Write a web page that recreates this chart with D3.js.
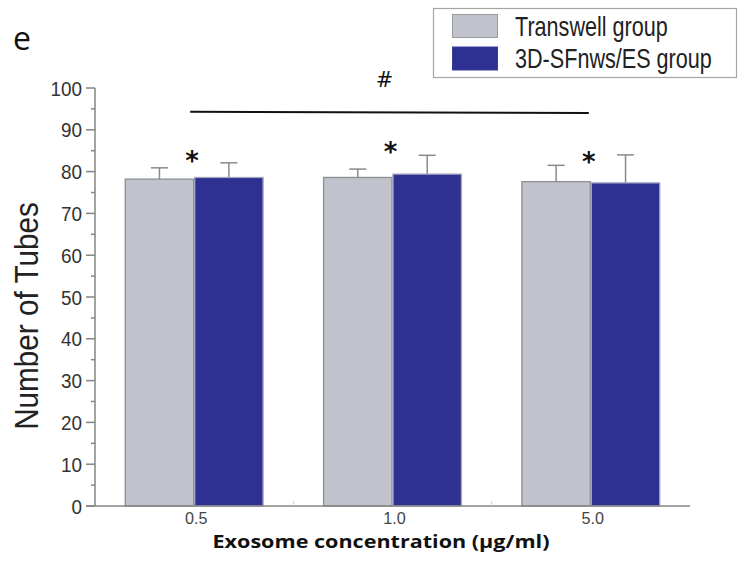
<!DOCTYPE html>
<html>
<head>
<meta charset="utf-8">
<script src="https://cdn.jsdelivr.net/npm/d3@7"></script>
<style>
  html, body { margin: 0; padding: 0; background: #fff; }
</style>
</head>
<body>
<div id="chartArea"></div>
<script>
// data
const concentrations = ['0.5', '1.0', '5.0']
const seriesNames = ['Transwell group', '3D-SFnws/ES group']
const transwellMeans = [78.2, 78.6, 77.6]
const transwellSD = [2.7, 2.0, 3.9]
const sfnwsMeans = [78.6, 79.4, 77.3]
const sfnwsSD = [3.5, 4.5, 6.7]
const starLevels = [84.7, 86.8, 84.4]   // height of the * marks
const bracketLevel = 94.3               // the # bracket
const yTicks = [0, 10, 20, 30, 40, 50, 60, 70, 80, 90, 100]
const yMinorTicks = [5, 15, 25, 35, 45, 55, 65, 75, 85, 95]

const colors = ['#c1c3cc', '#2e3192']
const strokes = ['#8e8e92', '#a3a6bf']
const axisColor = '#858585'

const width = 742
const height = 564
const margin = { left: 95, right: 52, top: 88, bottom: 58 }

const svg = d3.select('#chartArea')
  .append('svg')
  .attr('width', width)
  .attr('height', height)

const xGroup = d3.scaleBand()
  .domain(concentrations)
  .range([margin.left, width - margin.right])
  .paddingInner(0.3)
  .paddingOuter(0.15)

const xSeries = d3.scaleBand()
  .domain(seriesNames)
  .range([0, xGroup.bandwidth()])

const yScale = d3.scaleLinear()
  .domain([0, 100])
  .range([height - margin.bottom, margin.top])

const rows = concentrations.map((c, i) => ({
  c,
  values: [
    { s: seriesNames[0], k: 0, v: transwellMeans[i], e: transwellSD[i] },
    { s: seriesNames[1], k: 1, v: sfnwsMeans[i], e: sfnwsSD[i] }
  ]
}))

// helper for the condensed Arial-like text
const narrowText = (parent, x, y, txt, size, anchor, sx, fill) => {
  const g = parent.append('g').attr('transform', `translate(${x},${y}) scale(${sx},1)`)
  g.append('text')
    .attr('text-anchor', anchor)
    .attr('font-family', 'Liberation Sans, Arial, sans-serif')
    .attr('font-size', size)
    .attr('fill', fill)
    .text(txt)
  return g
}

// panel letter
svg.append('text')
  .attr('x', 13)
  .attr('y', 50)
  .attr('font-family', 'Open Sans, sans-serif')
  .attr('font-size', 32)
  .attr('fill', '#111')
  .text('e')

// bars
const groups = svg.selectAll('g.grp')
  .data(rows)
  .join('g')
  .attr('class', 'grp')
  .attr('transform', d => `translate(${xGroup(d.c)},0)`)

// error bars (upper only)
groups.selectAll('g.err')
  .data(d => d.values)
  .join(enter => {
    const g = enter.append('g').attr('class', 'err')
    g.append('line')
      .attr('x1', d => xSeries(d.s) + xSeries.bandwidth() / 2)
      .attr('x2', d => xSeries(d.s) + xSeries.bandwidth() / 2)
      .attr('y1', d => yScale(d.v))
      .attr('y2', d => yScale(d.v + d.e))
    g.append('line')
      .attr('x1', d => xSeries(d.s) + xSeries.bandwidth() / 2 - 8.5)
      .attr('x2', d => xSeries(d.s) + xSeries.bandwidth() / 2 + 8.5)
      .attr('y1', d => yScale(d.v + d.e))
      .attr('y2', d => yScale(d.v + d.e))
    return g
  })
  .attr('stroke', '#8a8a8a')
  .attr('stroke-width', 1.5)

groups.selectAll('rect')
  .data(d => d.values)
  .join('rect')
  .attr('x', d => xSeries(d.s) + 0.5)
  .attr('y', d => yScale(d.v))
  .attr('width', xSeries.bandwidth() - 1)
  .attr('height', d => yScale(0) - yScale(d.v))
  .attr('fill', d => colors[d.k])
  .attr('stroke', d => strokes[d.k])
  .attr('stroke-width', 1.3)

// asterisks
svg.selectAll('text.star')
  .data(concentrations)
  .join('text')
  .attr('class', 'star')
  .attr('x', (d, i) => xGroup(d) + xGroup.bandwidth() / 2 - 2)
  .attr('y', (d, i) => yScale(starLevels[i]) + 18)
  .attr('text-anchor', 'middle')
  .attr('font-family', 'DejaVu Sans, sans-serif')
  .attr('font-weight', 'bold')
  .attr('font-size', 26)
  .attr('fill', '#111')
  .text('*')

// # bracket
const bx1 = xGroup(concentrations[0]) + xGroup.bandwidth() / 2 - 4
const bx2 = xGroup(concentrations[2]) + xGroup.bandwidth() / 2 - 2
svg.append('line')
  .attr('x1', bx1)
  .attr('x2', bx2)
  .attr('y1', yScale(bracketLevel))
  .attr('y2', yScale(bracketLevel) + 1.2)
  .attr('stroke', '#111')
  .attr('stroke-width', 2)

svg.append('text')
  .attr('x', (bx1 + bx2) / 2 - 5)
  .attr('y', yScale(bracketLevel) - 25)
  .attr('text-anchor', 'middle')
  .attr('font-family', 'DejaVu Sans, sans-serif')
  .attr('font-size', 21)
  .attr('fill', '#111')
  .text('#')

// y axis
const axisG = svg.append('g').attr('stroke', axisColor).attr('stroke-width', 1.5)
axisG.append('line')
  .attr('x1', margin.left).attr('x2', margin.left)
  .attr('y1', yScale(100)).attr('y2', yScale(0))
axisG.selectAll('line.major')
  .data(yTicks)
  .join('line')
  .attr('class', 'major')
  .attr('x1', margin.left - 9).attr('x2', margin.left)
  .attr('y1', d => yScale(d)).attr('y2', d => yScale(d))
axisG.selectAll('line.minor')
  .data(yMinorTicks)
  .join('line')
  .attr('class', 'minor')
  .attr('x1', margin.left - 4).attr('x2', margin.left)
  .attr('y1', d => yScale(d)).attr('y2', d => yScale(d))

// x axis
axisG.append('line')
  .attr('x1', margin.left - 9).attr('x2', width - margin.right)
  .attr('y1', yScale(0)).attr('y2', yScale(0))

// faint ticks between the groups
svg.selectAll('line.xt')
  .data(concentrations.slice(1))
  .join('line')
  .attr('class', 'xt')
  .attr('x1', d => xGroup(d) - xGroup.step() * xGroup.paddingInner() / 2)
  .attr('x2', d => xGroup(d) - xGroup.step() * xGroup.paddingInner() / 2)
  .attr('y1', yScale(0) - 5).attr('y2', yScale(0))
  .attr('stroke', '#cfcfcf')
  .attr('stroke-width', 1)

// y tick labels
yTicks.forEach(t => {
  narrowText(svg, margin.left - 13, yScale(t) + 7.5, t, 21, 'end', 0.9, '#333')
})

// x tick labels
concentrations.forEach(c => {
  narrowText(svg, xGroup(c) + xGroup.bandwidth() / 2 + 2, yScale(0) + 18, c, 17, 'middle', 0.95, '#444')
})

// x title
svg.append('text')
  .attr('x', 381)
  .attr('y', 548)
  .attr('text-anchor', 'middle')
  .attr('font-family', 'Open Sans, sans-serif')
  .attr('font-weight', 'bold')
  .attr('font-size', 18.5)
  .attr('textLength', 337)
  .attr('lengthAdjust', 'spacingAndGlyphs')
  .attr('fill', '#111')
  .text('Exosome concentration (\u00b5g/ml)')

// y title
svg.append('g')
  .attr('transform', `translate(38,${316}) rotate(-90) scale(0.9,1)`)
  .append('text')
  .attr('text-anchor', 'middle')
  .attr('font-family', 'Liberation Sans, Arial, sans-serif')
  .attr('font-size', 33)
  .attr('fill', '#222')
  .text('Number of Tubes')

// legend
const legend = svg.append('g')
legend.append('rect')
  .attr('x', 433.5).attr('y', 8.5)
  .attr('width', 303).attr('height', 69)
  .attr('fill', '#fff')
  .attr('stroke', '#a5a5a5')
  .attr('stroke-width', 1.2)

seriesNames.forEach((s, i) => {
  legend.append('rect')
    .attr('x', 452.5).attr('y', 14.5 + i * 32.5)
    .attr('width', 45).attr('height', 23)
    .attr('fill', colors[i])
    .attr('stroke', i === 0 ? '#9a9a9e' : '#3a3d95')
    .attr('stroke-width', 1)
  narrowText(legend, 515, 36 + i * 32, s, 27, 'start', 0.8, '#222')
})
</script>
</body>
</html>
